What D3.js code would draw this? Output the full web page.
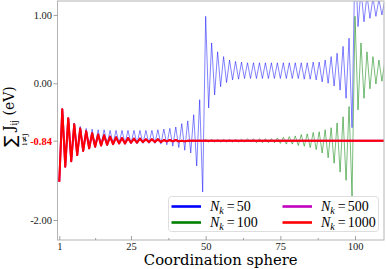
<!DOCTYPE html>
<html>
<head>
<meta charset="utf-8">
<script src="https://cdn.jsdelivr.net/npm/d3@7"></script>
<style>
body { margin: 0; background: #fff; }
svg { display: block; }
</style>
</head>
<body>
<div class="chart"></div>
<script>
// cumulative sum of J_ij per coordination sphere (eV), sphere 1..110
const nk50 = [
	-1.44, -0.38, -1.22, -0.51, -1.14, -0.58, -1.04, -0.63, -0.98, -0.66,
	-0.94, -0.67, -0.92, -0.68, -0.90, -0.68, -0.89, -0.69, -0.88, -0.69,
	-0.88, -0.69, -0.88, -0.69, -0.88, -0.69, -0.88, -0.69, -0.88, -0.69,
	-0.88, -0.69, -0.88, -0.68, -0.89, -0.67, -0.90, -0.66, -0.92, -0.64,
	-0.94, -0.59, -0.98, -0.55, -1.02, -0.46, -1.21, -0.24, -1.59, 0.98,
	-0.36, 0.59, -0.17, 0.46, -0.05, 0.39, 0.01, 0.34, 0.05, 0.32,
	0.06, 0.31, 0.07, 0.30, 0.07, 0.30, 0.07, 0.30, 0.07, 0.30,
	0.07, 0.30, 0.07, 0.30, 0.07, 0.30, 0.07, 0.30, 0.07, 0.30,
	0.07, 0.30, 0.06, 0.30, 0.06, 0.31, 0.05, 0.31, 0.02, 0.34,
	0.00, 0.39, -0.04, 0.44, -0.10, 0.54, -0.22, 0.66, -0.65, 1.90,
	0.83, 1.37, 0.90, 1.29, 0.95, 1.25, 0.98, 1.23, 1.00, 1.22
];
const nk100 = [
	-1.44, -0.38, -1.22, -0.51, -1.14, -0.60, -1.05, -0.66, -0.99, -0.70,
	-0.95, -0.73, -0.93, -0.75, -0.91, -0.76, -0.90, -0.78, -0.89, -0.79,
	-0.88, -0.80, -0.88, -0.80, -0.87, -0.81, -0.87, -0.81, -0.86, -0.82,
	-0.86, -0.82, -0.86, -0.82, -0.86, -0.83, -0.85, -0.83, -0.85, -0.83,
	-0.85, -0.84, -0.85, -0.84, -0.85, -0.83, -0.85, -0.83, -0.85, -0.82,
	-0.86, -0.82, -0.86, -0.82, -0.86, -0.82, -0.86, -0.82, -0.86, -0.82,
	-0.86, -0.82, -0.86, -0.81, -0.86, -0.81, -0.87, -0.81, -0.87, -0.81,
	-0.87, -0.81, -0.87, -0.80, -0.88, -0.79, -0.89, -0.78, -0.89, -0.77,
	-0.91, -0.75, -0.92, -0.74, -0.94, -0.72, -0.97, -0.71, -1.02, -0.68,
	-1.09, -0.65, -1.17, -0.58, -1.30, -0.49, -1.42, -0.34, -1.65, 0.98,
	-0.39, 0.59, -0.22, 0.46, -0.08, 0.39, -0.01, 0.34, 0.03, 0.32
];
const nk500 = [
	-1.44, -0.38, -1.22, -0.51, -1.14, -0.60, -1.05, -0.66, -0.99, -0.70,
	-0.95, -0.73, -0.93, -0.75, -0.91, -0.76, -0.90, -0.78, -0.89, -0.79,
	-0.88, -0.80, -0.88, -0.80, -0.87, -0.81, -0.87, -0.81, -0.86, -0.82,
	-0.86, -0.82, -0.86, -0.82, -0.86, -0.83, -0.85, -0.83, -0.85, -0.83,
	-0.85, -0.84, -0.85, -0.84, -0.84, -0.84, -0.84, -0.84, -0.84, -0.84,
	-0.84, -0.84, -0.84, -0.84, -0.84, -0.84, -0.84, -0.84, -0.84, -0.84,
	-0.84, -0.84, -0.84, -0.84, -0.84, -0.84, -0.84, -0.84, -0.84, -0.84,
	-0.84, -0.84, -0.84, -0.84, -0.84, -0.84, -0.84, -0.84, -0.84, -0.84,
	-0.84, -0.84, -0.84, -0.84, -0.84, -0.84, -0.84, -0.84, -0.84, -0.84,
	-0.84, -0.84, -0.84, -0.84, -0.84, -0.84, -0.84, -0.84, -0.84, -0.84,
	-0.84, -0.84, -0.84, -0.84, -0.84, -0.84, -0.84, -0.84, -0.84, -0.84
];
const nk1000 = [
	-1.44, -0.38, -1.22, -0.51, -1.14, -0.60, -1.05, -0.66, -0.99, -0.70,
	-0.95, -0.73, -0.93, -0.75, -0.91, -0.76, -0.90, -0.78, -0.89, -0.79,
	-0.88, -0.80, -0.88, -0.80, -0.87, -0.81, -0.87, -0.81, -0.86, -0.82,
	-0.86, -0.82, -0.86, -0.82, -0.86, -0.83, -0.85, -0.83, -0.85, -0.83,
	-0.85, -0.84, -0.85, -0.84, -0.84, -0.84, -0.84, -0.84, -0.84, -0.84,
	-0.84, -0.84, -0.84, -0.84, -0.84, -0.84, -0.84, -0.84, -0.84, -0.84,
	-0.84, -0.84, -0.84, -0.84, -0.84, -0.84, -0.84, -0.84, -0.84, -0.84,
	-0.84, -0.84, -0.84, -0.84, -0.84, -0.84, -0.84, -0.84, -0.84, -0.84,
	-0.84, -0.84, -0.84, -0.84, -0.84, -0.84, -0.84, -0.84, -0.84, -0.84,
	-0.84, -0.84, -0.84, -0.84, -0.84, -0.84, -0.84, -0.84, -0.84, -0.84,
	-0.84, -0.84, -0.84, -0.84, -0.84, -0.84, -0.84, -0.84, -0.84, -0.84
];
const nkLabels = ["50", "100", "500", "1000"];
const xTicks = [1, 25, 50, 75, 100];
const xMinorTicks = [13, 37.5, 62.5, 87.5];
const yTicks = [1, 0, -0.84, -2];
const converged = -0.84;

const firstSphere = 1;
const w = 386,
	h = 269,
	plotLeft = 57.5,
	plotRight = 384,
	plotTop = 1,
	plotBottom = 240;

const series = [
	{ label: nkLabels[0], values: nk50, color: "#0000ff", width: 0.7, opacity: 0.7 },
	{ label: nkLabels[1], values: nk100, color: "#008000", width: 0.7, opacity: 0.75 },
	{ label: nkLabels[2], values: nk500, color: "#bf00bf", width: 2, opacity: 1 },
	{ label: nkLabels[3], values: nk1000, color: "#ff0000", width: 2, opacity: 1 }
];

const svg = d3.select(".chart").append("svg").attr("width", w).attr("height", h);

const xScale = d3.scaleLinear().domain([0.4, 109.7]).range([plotLeft, plotRight]);
const yScale = d3.scaleLinear().domain([-2.293, 1.204]).range([plotBottom, plotTop]);

svg
	.append("clipPath")
	.attr("id", "plot-clip")
	.append("rect")
	.attr("x", plotLeft)
	.attr("y", plotTop)
	.attr("width", plotRight - plotLeft)
	.attr("height", plotBottom - plotTop);

const line = d3
	.line()
	.x((d, i) => xScale(i + firstSphere))
	.y((d) => yScale(d));

svg
	.append("g")
	.attr("clip-path", "url(#plot-clip)")
	.selectAll("path")
	.data(series)
	.enter()
	.append("path")
	.attr("d", (d) => line(d.values))
	.attr("fill", "none")
	.attr("stroke", (d) => d.color)
	.attr("stroke-width", (d) => d.width)
	.attr("stroke-opacity", (d) => d.opacity)
	.attr("stroke-linejoin", "round");

// frame
svg
	.append("rect")
	.attr("x", plotLeft)
	.attr("y", plotTop)
	.attr("width", plotRight - plotLeft)
	.attr("height", plotBottom - plotTop)
	.attr("fill", "none")
	.attr("stroke", "#b4b4b4")
	.attr("stroke-width", 1);

// x axis, ticks pointing in
svg
	.append("g")
	.attr("transform", "translate(0," + plotBottom + ")")
	.call(d3.axisBottom(xScale).tickValues(xTicks).tickSize(-4).tickPadding(2.5));
svg
	.append("g")
	.attr("transform", "translate(0," + plotBottom + ")")
	.call(d3.axisBottom(xScale).tickValues(xMinorTicks).tickSize(-2).tickFormat(""));

// y axis, ticks pointing out
const yAxis = svg
	.append("g")
	.attr("transform", "translate(" + plotLeft + ",0)")
	.call(
		d3
			.axisLeft(yScale)
			.tickValues(yTicks)
			.tickSize(4)
			.tickPadding(1.5)
			.tickFormat((d) => d.toFixed(2))
	);

svg.selectAll(".domain").remove();
svg.selectAll(".tick line").attr("stroke", "#8c8c8c").attr("stroke-width", 0.8);
svg
	.selectAll(".tick text")
	.attr("fill", "#1a1a1a")
	.style("font-family", "'Liberation Serif', serif")
	.style("font-size", "10.5px");

yAxis
	.selectAll(".tick")
	.filter((d) => d === converged)
	.select("text")
	.attr("fill", "#ff0000")
	.style("font-weight", "bold");

// axis labels
svg
	.append("text")
	.attr("x", (plotLeft + plotRight) / 2)
	.attr("y", 265)
	.attr("text-anchor", "middle")
	.style("font-family", "'DejaVu Serif', serif")
	.style("font-size", "14.8px")
	.attr("fill", "#000")
	.text("Coordination sphere");

const yLabel = svg.append("g").attr("transform", "translate(14.5,147) rotate(-90)");
yLabel
	.append("text")
	.attr("x", 0)
	.attr("y", 1)
	.style("font-family", "'DejaVu Sans', sans-serif")
	.style("font-size", "17px")
	.attr("fill", "#000")
	.text("\u2211");
const yText = yLabel
	.append("text")
	.attr("x", 16)
	.attr("y", -1)
	.style("font-family", "'DejaVu Serif', serif")
	.attr("fill", "#000");
yText.append("tspan").style("font-size", "14px").text("J");
yText.append("tspan").attr("dy", 3).style("font-size", "8.5px").text("ij");
yText.append("tspan").attr("dy", -3).style("font-size", "14px").text(" (eV)");
yLabel
	.append("text")
	.attr("x", 7.5)
	.attr("y", 12)
	.attr("text-anchor", "middle")
	.style("font-family", "'DejaVu Serif', serif")
	.style("font-size", "8px")
	.attr("fill", "#000")
	.text("i\u2260j");

// legend
const legend = svg.append("g");
legend
	.append("rect")
	.attr("x", 168.5)
	.attr("y", 196.5)
	.attr("width", 210)
	.attr("height", 35)
	.attr("rx", 3)
	.attr("fill", "#fff")
	.attr("fill-opacity", 0.85)
	.attr("stroke", "#d6d6d6")
	.attr("stroke-width", 0.8);

const legendItems = legend
	.selectAll("g.item")
	.data(series)
	.enter()
	.append("g")
	.attr("class", "item")
	.attr("transform", (d, i) => "translate(" + (i < 2 ? 171.5 : 282.5) + "," + (i % 2 === 0 ? 206.5 : 222.5) + ")");

legendItems
	.append("line")
	.attr("x1", 0)
	.attr("x2", 29.5)
	.attr("y1", 0)
	.attr("y2", 0)
	.attr("stroke", (d) => d.color)
	.attr("stroke-width", 2.6);

const legendText = legendItems
	.append("text")
	.attr("x", 38.5)
	.attr("y", 4.5)
	.style("font-family", "'Liberation Serif', serif")
	.style("font-size", "14px")
	.attr("fill", "#000");
legendText.append("tspan").style("font-style", "italic").text("N");
legendText.append("tspan").attr("dy", 2.5).style("font-style", "italic").style("font-size", "10px").text("k");
legendText.append("tspan").attr("dy", -2.5).attr("dx", 3).text("=");
legendText.append("tspan").attr("dx", 2).text((d) => d.label);
</script>
</body>
</html>
